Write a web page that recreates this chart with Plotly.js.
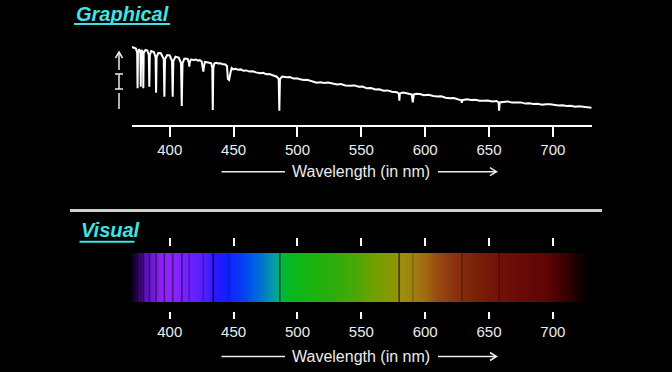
<!DOCTYPE html>
<html>
<head>
<meta charset="utf-8">
<script src="https://cdn.plot.ly/plotly-3.0.1.min.js"></script>
<style>
  html, body { margin: 0; padding: 0; background: #000; }
  #chart { width: 672px; height: 372px; }
</style>
</head>
<body>
<div id="chart"></div>
<script>
// ---------------- DATA ----------------
// Graphical spectrum: wavelength (nm) and relative intensity (arbitrary units)
const spectrumWl = [
  370.5,372.0,373.5,374.5,374.8,375.1,376.0,377.0,377.3,377.6,378.3,379.0,379.3,379.6,381.0,382.5,
  383.6,384.0,384.4,385.5,387.5,388.9,389.3,389.7,391.0,393.0,395.3,395.8,396.3,398.0,400.0,401.8,
  402.3,402.8,404.5,407.0,408.8,409.4,410.0,411.5,414.0,415.0,415.3,415.7,416.5,419.0,420.5,422.0,
  423.5,425.0,426.0,426.3,426.7,427.5,430.0,432.5,433.3,433.7,434.1,435.0,436.5,438.0,439.5,441.0,
  443.5,444.8,445.5,446.5,447.5,448.5,449.8,451.5,453.5,455.5,457.6,460.0,462.5,465.0,467.5,470.7,
  473.0,475.5,478.0,481.0,483.8,485.3,485.8,486.3,488.0,491.6,494.0,497.0,500.0,502.0,505.0,507.5,
  509.9,512.5,515.1,518.0,521.0,524.0,528.1,531.0,534.0,537.5,541.2,544.5,548.0,551.0,554.3,557.5,
  561.0,564.0,567.3,570.5,574.0,577.8,579.4,579.8,580.2,582.5,585.6,589.5,590.3,591.1,593.0,596.0,
  599.0,602.5,606.4,609.5,612.5,616.0,619.5,622.5,625.5,628.3,628.7,629.1,632.6,636.0,639.5,642.5,
  645.6,649.0,652.5,656.0,657.5,657.9,658.3,661.2,664.5,668.0,671.7,675.0,678.5,681.5,684.7,688.0,
  691.5,694.5,697.8,701.0,704.5,707.5,710.9,714.0,717.5,720.5,723.9,727.0,730.4
];
const spectrumI = [
  78.0,77.3,76.5,72.0,36.7,72.0,75.7,73.0,38.3,73.0,75.0,72.0,36.7,72.0,75.0,74.5,
  70.0,38.3,70.0,74.0,73.0,68.0,32.3,68.0,72.0,71.7,66.0,28.3,66.0,70.0,69.5,64.0,
  28.3,64.0,68.3,67.5,62.0,19.0,62.0,66.5,66.0,62.0,58.3,63.0,65.5,65.0,65.5,64.3,
  64.8,63.5,58.0,53.3,58.0,63.0,62.5,61.7,57.0,15.0,57.0,61.7,62.2,61.5,61.8,61.0,
  60.5,59.0,46.0,45.0,52.0,57.0,55.7,56.2,55.3,55.6,54.3,54.6,53.4,53.8,52.6,51.7,
  52.1,50.8,51.0,49.6,48.3,46.0,14.3,46.0,48.5,47.7,47.9,46.4,46.6,45.7,45.0,45.3,
  44.3,43.4,42.3,42.8,42.0,42.4,41.7,40.6,41.0,39.6,39.3,39.6,38.2,38.5,36.7,36.9,
  35.5,35.8,34.3,34.6,33.2,32.7,31.5,24.3,31.5,32.4,31.7,30.5,22.7,30.5,31.3,31.0,
  29.8,30.2,29.0,28.4,28.7,27.3,26.7,27.0,25.8,24.8,22.3,24.8,25.7,25.0,25.3,24.2,
  24.3,24.6,23.6,24.0,22.5,14.3,22.5,23.3,23.6,22.4,22.3,22.6,21.4,21.8,21.0,21.3,
  20.2,20.8,20.7,20.1,19.4,19.8,19.0,19.3,18.3,18.8,18.3,17.5,17.3
];

// Visual spectrum: colour stops by wavelength
const colorStopWl = [369,373,377,381,386,392,398,404,412,420,428,436,445,455,464,472,480,485,488,495,510,530,545,560,575,583,592,600,610,625,640,660,680,695,705,715,722,728];
const colorStopCol = ['#000000','#1e0040','#480890','#5e10b8','#6e18d2','#8820f0','#9422ff','#8a22ff','#7622ff','#6420ff','#5020ff','#2818ff','#1020ff','#0838f8','#0058e8','#0074cc','#0098a8','#00ac80','#00b838','#08b820','#18b410','#30ac0c','#48a808','#70a000','#8c9600','#a08c10','#a07c10','#a06a10','#984a10','#883010','#7a2008','#701008','#680808','#600404','#480000','#280000','#100000','#000000'];

// Dark absorption lines in the visual band: wavelength and darkness
const visLineWl = [374.8,377.3,379.3,384.0,389.3,395.8,402.3,409.4,415.3,426.3,434.0,446.0,486.2,579.6,590.3,628.8,658.0];
const visLineDark = [0.45,0.35,0.45,0.4,0.45,0.5,0.45,0.5,0.25,0.25,0.65,0.15,0.6,0.6,0.2,0.3,0.35];

// Axis ticks
const tickVals = [400,450,500,550,600,650,700];
const tickText = ['400','450','500','550','600','650','700'];
const xRange = [370.2, 730.4];

// ---------------- BUILD ----------------
const W = 672, H = 372;
const PX = x => x / W;
const PY = y => 1 - y / H;
const FONT = 'Liberation Sans, Arial, sans-serif';
const CYAN = '#40e4e4';
const TXT = '#ececec';

// heatmap rendering grid across the axis
const gridWl = [];
for (let w = 369; w <= 731; w += 0.5) gridWl.push(w);
const zMin = colorStopWl[0], zMax = colorStopWl[colorStopWl.length - 1];
const colorscale = colorStopWl.map((w, i) => [(w - zMin) / (zMax - zMin), colorStopCol[i]]);

const traces = [
  {
    type: 'scatter', mode: 'lines', x: spectrumWl, y: spectrumI,
    xaxis: 'x', yaxis: 'y',
    line: { color: '#ffffff', width: 2 }, hoverinfo: 'skip'
  },
  {
    type: 'heatmap', x: gridWl, y: [0], z: [gridWl],
    zmin: zMin, zmax: zMax, colorscale: colorscale, showscale: false,
    xaxis: 'x2', yaxis: 'y2', hoverinfo: 'skip'
  },
  { type: 'scatter', x: [], y: [], xaxis: 'x3', yaxis: 'y3', hoverinfo: 'skip' }
];

const dom = [PX(131.7), PX(591.7)];
const tickFont = { family: FONT, size: 15, color: TXT };

const shapes = [];
const ln = (x0, y0, x1, y1, color, width) => shapes.push({
  type: 'line', xref: 'paper', yref: 'paper',
  x0: PX(x0), y0: PY(y0), x1: PX(x1), y1: PY(y1),
  line: { color: color, width: width }
});
const path = (d, color, width) => shapes.push({
  type: 'path', xref: 'paper', yref: 'paper', path: d,
  line: { color: color, width: width }
});
const pp = (x, y) => PX(x) + ',' + PY(y);

// title underlines
ln(74, 24, 170, 24, CYAN, 2);
ln(79.5, 241.7, 134.5, 241.7, CYAN, 2);
// separator
ln(70, 210.5, 602, 210.5, '#d0d0d0', 3);
// intensity symbol (arrow, I-beam, bar)
ln(119, 53, 119, 70, TXT, 1.5);
path('M' + pp(115.5, 58) + ' L' + pp(119, 52) + ' L' + pp(122.5, 58), TXT, 1.5);
ln(119, 74, 119, 89, TXT, 1.5);
ln(115, 74, 123, 74, TXT, 1.5);
ln(115, 89, 123, 89, TXT, 1.5);
ln(119, 93, 119, 109, TXT, 1.5);
// axis-title arrows
[171.7, 356.5].forEach(y => {
  ln(221.5, y, 285, y, TXT, 1.5);
  ln(438, y, 496, y, TXT, 1.5);
  path('M' + pp(490, y - 4) + ' L' + pp(496.5, y) + ' L' + pp(490, y + 4), TXT, 1.5);
});
// absorption lines in the visual band
visLineWl.forEach((w, i) => shapes.push({
  type: 'line', xref: 'x2', yref: 'y2 domain',
  x0: w, x1: w, y0: 0, y1: 1,
  line: { color: 'rgba(0,0,0,' + visLineDark[i] + ')', width: 1.6 }
}));

const annotations = [
  { text: 'Graphical', x: PX(74), y: PY(14.5), xanchor: 'left', yanchor: 'middle',
    font: { family: FONT, size: 20, color: CYAN, weight: 'bold', style: 'italic' } },
  { text: 'Visual', x: PX(79), y: PY(230), xanchor: 'left', yanchor: 'middle',
    font: { family: FONT, size: 20, color: CYAN, weight: 'bold', style: 'italic' } },
  { text: 'Wavelength (in nm)', x: PX(360.5), y: PY(171.7), xanchor: 'center', yanchor: 'middle',
    font: { family: FONT, size: 16, color: TXT } },
  { text: 'Wavelength (in nm)', x: PX(360.5), y: PY(356.5), xanchor: 'center', yanchor: 'middle',
    font: { family: FONT, size: 16, color: TXT } }
].map(a => Object.assign({ xref: 'paper', yref: 'paper', showarrow: false }, a));

const layout = {
  width: W, height: H,
  margin: { l: 0, r: 0, t: 0, b: 0, pad: 0 },
  paper_bgcolor: '#000000', plot_bgcolor: '#000000',
  showlegend: false,
  xaxis: {
    domain: dom, range: xRange, anchor: 'y',
    tickvals: tickVals, ticktext: tickText, ticks: 'outside', ticklen: 10, tickwidth: 2, tickcolor: '#ffffff',
    showline: true, linecolor: '#ffffff', linewidth: 2,
    showgrid: false, zeroline: false, tickfont: tickFont, fixedrange: true
  },
  yaxis: {
    domain: [PY(125), PY(45)], range: [0, 80], visible: false, fixedrange: true
  },
  xaxis2: {
    domain: dom, range: xRange, anchor: 'free', position: PY(311),
    tickvals: tickVals, ticktext: tickText, ticks: 'outside', ticklen: 7, tickwidth: 2, tickcolor: '#ffffff',
    showline: false, showgrid: false, zeroline: false, tickfont: tickFont, fixedrange: true
  },
  yaxis2: {
    domain: [PY(302), PY(253)], range: [-0.5, 0.5], visible: false, anchor: 'x2', fixedrange: true
  },
  xaxis3: {
    domain: dom, range: xRange, anchor: 'y3', side: 'top',
    tickvals: tickVals, ticks: 'outside', ticklen: 8.5, tickwidth: 2, tickcolor: '#ffffff',
    showticklabels: false, showline: false, showgrid: false, zeroline: false, fixedrange: true
  },
  yaxis3: {
    domain: [PY(250), PY(247)], range: [0, 1], visible: false, anchor: 'x3', fixedrange: true
  },
  shapes: shapes,
  annotations: annotations
};

Plotly.newPlot('chart', traces, layout, { staticPlot: true, displayModeBar: false });
</script>
</body>
</html>
